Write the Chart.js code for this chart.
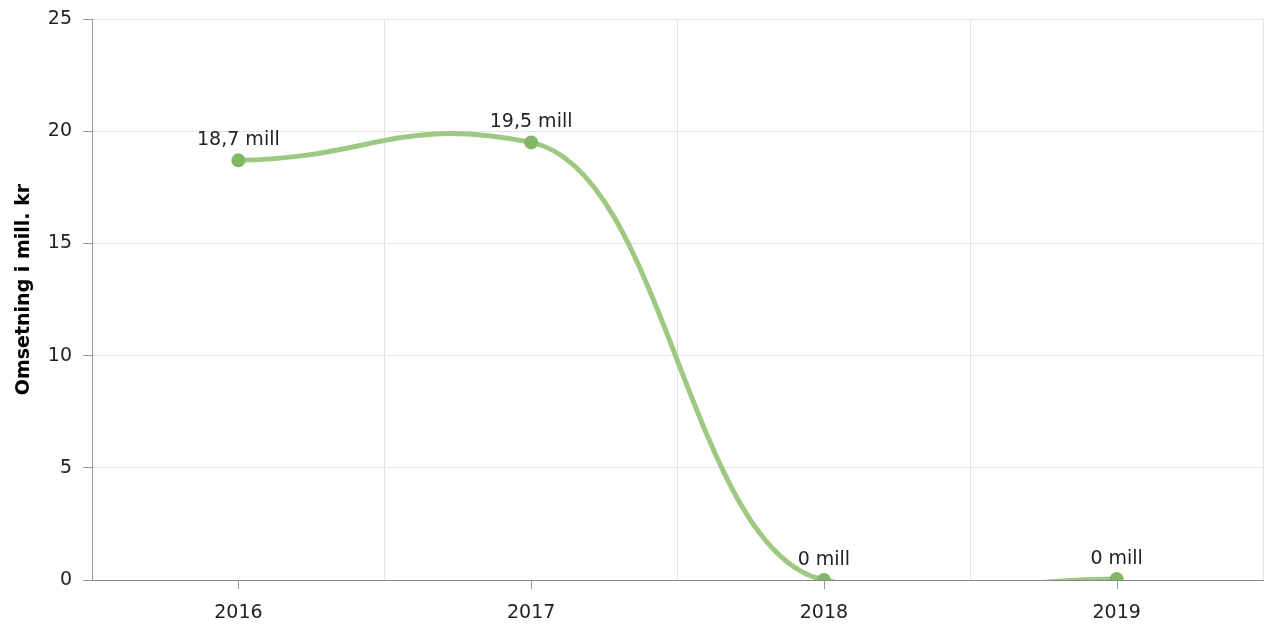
<!DOCTYPE html>
<html>
<head>
<meta charset="utf-8">
<script src="https://cdn.jsdelivr.net/npm/chart.js@4/dist/chart.umd.min.js"></script>
<style>
html,body{margin:0;padding:0;background:#fff;overflow:hidden;}
canvas{display:block;}
</style>
</head>
<body>
<canvas id="c" width="1267" height="627" style="width:1267px;height:627px"></canvas>
<script>
const categories = ["2016", "2017", "2018", "2019"];
const revenue = [18.7, 19.5, 0, 0.04];
const yTicks = [0, 5, 10, 15, 20, 25];
const yTitle = "Omsetning i mill. kr";
const unit = "mill";

const FONT = "'DejaVu Sans', Verdana, sans-serif";
const SMOOTH_X = 0.46;   // control point reach along x (fraction of category spacing)
const SLOPE_K = 0.28;    // tangent damping

function fmt(v){
  const r = Math.round(v*10)/10;
  return String(r).replace('.', ',') + ' ' + unit;
}

// spline control points computed from the library's pixel positions
const splinePlugin = {
  id: 'spline',
  beforeDatasetsDraw(chart){
    const meta = chart.getDatasetMeta(0);
    const line = meta.dataset;
    if (line.updateControlPoints) line.updateControlPoints(chart.chartArea, 'x');
    const pts = meta.data;
    const n = pts.length;
    for (let i = 0; i < n; i++){
      const p = pts[i];
      const prev = pts[Math.max(i-1, 0)];
      const next = pts[Math.min(i+1, n-1)];
      const slope = (next.x !== prev.x) ? SLOPE_K * (next.y - prev.y) / (next.x - prev.x) : 0;
      const hPrev = i > 0 ? p.x - pts[i-1].x : 0;
      const hNext = i < n-1 ? pts[i+1].x - p.x : 0;
      p.cp1x = p.x - SMOOTH_X * hPrev;
      p.cp1y = p.y - SMOOTH_X * hPrev * slope;
      p.cp2x = p.x + SMOOTH_X * hNext;
      p.cp2y = p.y + SMOOTH_X * hNext * slope;
    }
    line._path = undefined;
  }
};

const labelPlugin = {
  id: 'pointLabels',
  afterDatasetsDraw(chart){
    const ctx = chart.ctx;
    const meta = chart.getDatasetMeta(0);
    ctx.save();
    ctx.font = "19px " + FONT;
    ctx.fillStyle = "#222";
    ctx.textAlign = "center";
    ctx.textBaseline = "alphabetic";
    meta.data.forEach((pt, i) => {
      ctx.fillText(fmt(revenue[i]), pt.x, pt.y - 15);
    });
    ctx.restore();
  }
};

const xTickPlugin = {
  id: 'xTickMarks',
  afterDraw(chart){
    const xs = chart.scales.x;
    const ctx = chart.ctx;
    ctx.save();
    ctx.strokeStyle = "#999";
    ctx.lineWidth = 1;
    categories.forEach((c, i) => {
      const px = Math.round(xs.getPixelForValue(i)) + 0.5;
      ctx.beginPath();
      ctx.moveTo(px, xs.top);
      ctx.lineTo(px, xs.top + 9);
      ctx.stroke();
    });
    ctx.restore();
  }
};

const yTitlePlugin = {
  id: 'yTitle',
  afterDraw(chart){
    const ctx = chart.ctx;
    const a = chart.chartArea;
    ctx.save();
    ctx.translate(24, (a.top + a.bottom) / 2 - 10);
    ctx.rotate(-Math.PI / 2);
    ctx.font = "bold 19px " + FONT;
    ctx.fillStyle = "#000";
    ctx.textAlign = "center";
    ctx.textBaseline = "middle";
    ctx.fillText(yTitle, 0, 0);
    ctx.restore();
  }
};

new Chart(document.getElementById('c'), {
  type: 'line',
  data: {
    labels: categories,
    datasets: [{
      data: revenue,
      borderColor: '#9dc983',
      borderWidth: 5,
      backgroundColor: '#82b766',
      pointBackgroundColor: '#82b766',
      pointBorderWidth: 0,
      pointRadius: 7,
      pointHoverRadius: 7,
      tension: 0.4,
      fill: false
    }]
  },
  options: {
    responsive: false,
    maintainAspectRatio: false,
    animation: false,
    devicePixelRatio: 1,
    elements: { line: { capBezierPoints: false } },
    layout: { autoPadding: false, padding: { top: 19, right: 4, left: 0, bottom: 0 } },
    plugins: { legend: { display: false }, tooltip: { enabled: false } },
    scales: {
      x: {
        offset: true,
        grid: { offset: true, color: '#e3e3e3', drawTicks: false },
        border: { color: '#888', width: 1 },
        ticks: { font: { family: FONT, size: 19 }, color: '#222', padding: 22, maxRotation: 0 },
        afterFit(s){ s.height = 47; s.paddingLeft = 0; s.paddingRight = 0; }
      },
      y: {
        min: 0, max: 25,
        afterBuildTicks(s){ s.ticks = yTicks.map(v => ({ value: v })); },
        grid: { color: '#e3e3e3', tickLength: 9, tickColor: '#999' },
        border: { color: '#999', width: 1 },
        ticks: { font: { family: FONT, size: 19 }, color: '#222', padding: 11 },
        afterFit(s){ s.width = 92; s.paddingTop = 0; s.paddingBottom = 0; }
      }
    }
  },
  plugins: [splinePlugin, labelPlugin, xTickPlugin, yTitlePlugin]
});
</script>
</body>
</html>
